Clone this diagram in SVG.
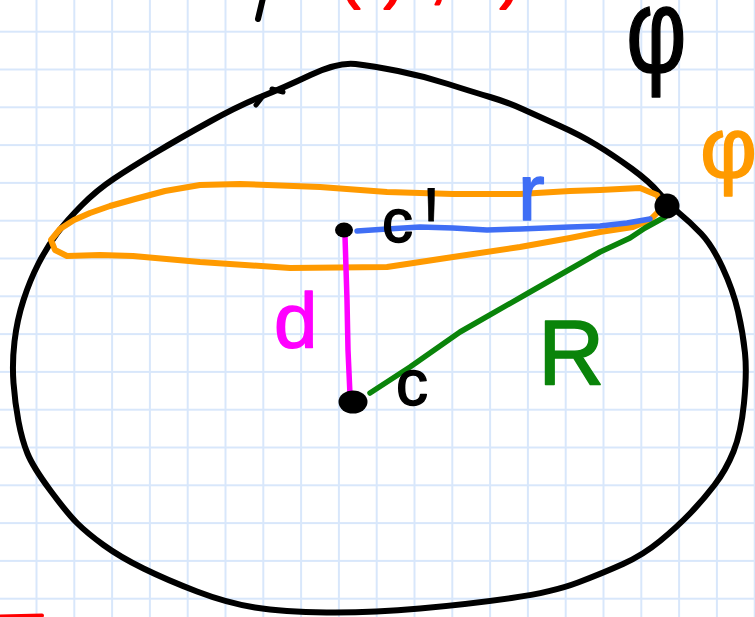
<svg xmlns="http://www.w3.org/2000/svg" width="755" height="617" viewBox="0 0 755 617">
<style>
.ink{fill:none;stroke-linecap:round;stroke-linejoin:round}
.lbl{font-family:"Liberation Sans","DejaVu Sans",sans-serif;stroke-linejoin:round}
</style>
<defs>
<pattern id="grid" patternUnits="userSpaceOnUse" x="17.6" y="12.8" width="37.8" height="37.8">
<path d="M18.9,0 V37.8 M0,18.9 H37.8" stroke="#d8e7fb" stroke-width="2" fill="none"/>
</pattern>
</defs>
<rect width="755" height="617" fill="#ffffff"/>
<rect width="755" height="617" fill="url(#grid)"/>

<g id="top-fragments">
<path class="ink" d="M263,-2 L258,19" stroke="#000" stroke-width="6"/>
<text class="lbl" font-size="60" fill="#ff0000" stroke="#ff0000" stroke-width="2" y="-3" x="298 340 356 384 430 455 470 500">n(c),rd)</text>
</g>

<g id="sphere">
<path class="ink" stroke="#000" stroke-width="6" d="M261.5,96.5 Q283,88 310.5,75 Q338,62 355.5,64 Q373,66 398,71 Q423,76 448,84 Q473,92 490,97 Q507,102 523.5,109.5 Q540,117 560,126 Q580,135 596.5,145 Q613,155 631.5,168.5 Q650,182 659,193 Q668,204 679,213 Q690,222 701,233.5 Q712,245 722.5,267.5 Q733,290 738,311.5 Q743,333 745,353 Q747,373 744,403 Q741,433 733.5,451.5 Q726,470 714.5,485 Q703,500 690,513.5 Q677,527 660,541 Q643,555 623,564 Q603,573 578,582.5 Q553,592 511.5,598 Q470,604 420,608.5 Q370,613 326.5,612.5 Q283,612 255,607.5 Q227,603 197,591.5 Q167,580 143.5,568.5 Q120,557 103.5,545 Q87,533 77,523 Q67,513 50,490 Q33,467 27.5,453.5 Q22,440 18.5,421.5 Q15,403 13.5,383 Q12,363 14.5,341.5 Q17,320 23.5,300 Q30,280 38.5,263.5 Q47,247 57,233.5 Q67,220 82,205 Q97,190 113.5,179 Q130,168 155,153 Q180,138 210,121.5 Q240,105 261.5,96.5 Z"/>
<path class="ink" stroke="#000" stroke-width="5" d="M256,105 L263,96 M272,89 L283,92"/>
<text class="lbl" font-size="120" transform="translate(626,72) scale(0.78,1)" fill="#000" stroke="#000" stroke-width="1.5">φ</text>
</g>

<g id="circle">
<path class="ink" stroke="#ff9a00" stroke-width="6" d="M662,204 L657,195 L640,188 L600,190 L570,191 L520,194 L453,194 L387,192 L320,187 L240,184 L200,185 L165,191 L135,199 L110,206 L90,213 L74,220 L60,229 L51,240 L55,250 L67,256 L100,255 L133,256 L200,262 L290,268 L387,267 L453,257 L520,247 L570,238 L600,232 L633,227 L650,220 L660,210"/>
<text class="lbl" font-size="88" x="700" y="178" fill="#ff9a00" stroke="#ff9a00" stroke-width="1.5">φ<tspan font-size="44">₁</tspan></text>
</g>

<g id="connectors">
<path class="ink" stroke="#3f6ef5" stroke-width="5.5" d="M357,231 L387,229 L420,227 L453,228 L487,230 L520,229 L570,227 L600,226 L627,223 L650,219"/>
<path class="ink" stroke="#ff00ff" stroke-width="5.5" d="M345,236 L347,300 L348,350 L350,395"/>
<path class="ink" stroke="#0a840a" stroke-width="5.5" d="M370,393 L410,367 L460,332 L530,292 L600,252 L630,238 L645,228 L665,217"/>
</g>

<g id="node-cprime">
<ellipse cx="344" cy="230" rx="9" ry="7.5" fill="#000"/>
<text class="lbl" font-size="62" x="382" y="242" fill="#000" stroke="#000" stroke-width="1.5">c</text>
<text class="lbl" font-size="150" transform="translate(424,292) scale(0.5,1)" fill="#000" stroke="#000" stroke-width="1">'</text>
</g>

<g id="node-c">
<ellipse cx="353" cy="402" rx="14.5" ry="11.5" fill="#000"/>
<text class="lbl" font-size="64" x="396" y="405" fill="#000" stroke="#000" stroke-width="1.5">c</text>
</g>

<g id="node-point">
<circle cx="667" cy="206" r="12.5" fill="#000"/>
</g>

<g id="labels">
<text class="lbl" font-size="78" x="274" y="348" fill="#ff00ff" stroke="#ff00ff" stroke-width="1.5">d</text>
<text class="lbl" font-size="80" x="518" y="220" fill="#3f6ef5" stroke="#3f6ef5" stroke-width="1.5">r</text>
<text class="lbl" font-size="92" x="538" y="385" fill="#0a840a" stroke="#0a840a" stroke-width="1.5">R</text>
</g>

<path class="ink" stroke="#ff0000" stroke-width="4" d="M-2,616.5 L42,615.5"/>
</svg>
